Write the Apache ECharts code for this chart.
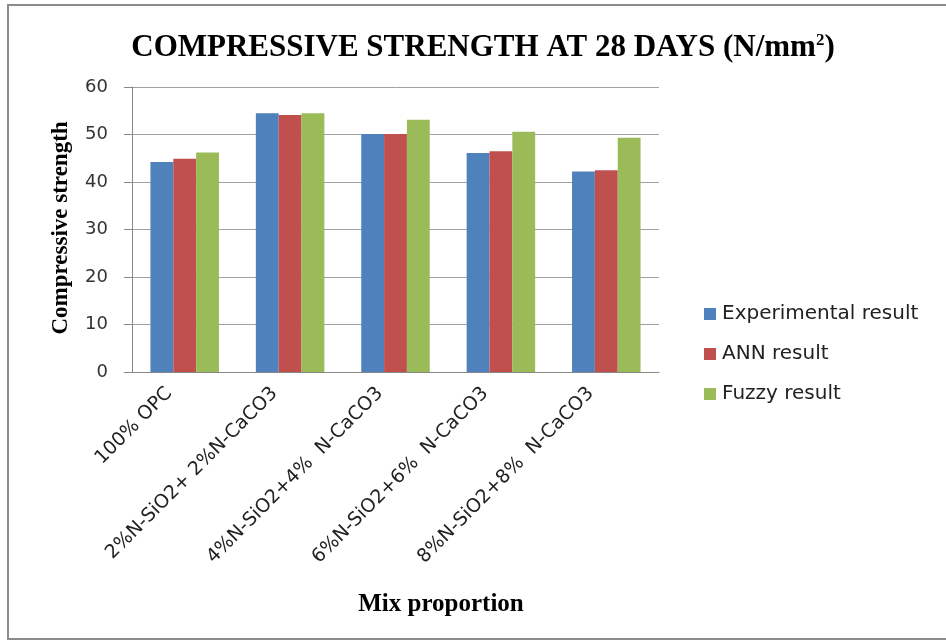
<!DOCTYPE html>
<html><head><meta charset="utf-8">
<script src="https://cdn.jsdelivr.net/npm/echarts@6/dist/echarts.min.js"></script>
<style>html,body{margin:0;padding:0;background:#fff}#c{width:946px;height:641px}</style>
</head><body><div id="c"></div>
<script>
const categories = ["100% OPC","2%N-SiO2+ 2%N-CaCO3","4%N-SiO2+4%  N-CaCO3","6%N-SiO2+6%  N-CaCO3","8%N-SiO2+8%  N-CaCO3"];
const experimental = [44.2, 54.5, 50.1, 46.1, 42.2];
const ann = [44.9, 54.1, 50.1, 46.5, 42.5];
const fuzzy = [46.2, 54.5, 53.1, 50.6, 49.3];
const seriesNames = ["Experimental result","ANN result","Fuzzy result"];
const yTicks = [0, 60, 10];

const chart = echarts.init(document.getElementById('c'));
const colors = ['#4F81BD','#C0504D','#9BBB59'];
const data = [experimental, ann, fuzzy];
chart.setOption({
  animation:false,
  backgroundColor:'#fff',
  color: colors,
  title:{
    text:'COMPRESSIVE STRENGTH AT 28 DAYS (N/mm{sup|2})',
    left:478, top:27, textAlign:'center',
    textStyle:{fontFamily:'Liberation Serif',fontWeight:'bold',fontSize:31,color:'#000',
      rich:{sup:{fontFamily:'Liberation Serif',fontWeight:'bold',fontSize:17,color:'#000',verticalAlign:'top',padding:[0,0,14,0]}}}
  },
  graphic:[
    {type:'rect',shape:{x:8,y:5,width:950,height:634},style:{fill:'none',stroke:'#8c8c8c',lineWidth:2},silent:true},
    {type:'text',x:61,y:228,rotation:Math.PI/2,style:{text:'Compressive strength',fontFamily:'Liberation Serif',fontWeight:'bold',fontSize:23,fill:'#000',textAlign:'center',textVerticalAlign:'middle'}},
    {type:'text',x:441,y:605,style:{text:'Mix proportion',fontFamily:'Liberation Serif',fontWeight:'bold',fontSize:25,fill:'#000',textAlign:'center',textVerticalAlign:'middle'}}
  ],
  legend:{
    orient:'vertical', left:699, top:299, itemGap:20, itemWidth:12, itemHeight:12,
    icon:'rect',
    textStyle:{fontFamily:'DejaVu Sans',fontSize:20,color:'#222',padding:[0,0,0,1]},
    data: seriesNames
  },
  grid:{left:132, right:287, top:87, bottom:269},
  xAxis:{
    type:'category', data:categories,
    axisLine:{lineStyle:{color:'#888'}},
    axisTick:{show:false},
    axisLabel:{rotate:45, fontFamily:'DejaVu Sans', fontSize:19, color:'#222', margin:3, interval:0, padding:[0,22,0,0]}
  },
  yAxis:{
    type:'value', min:yTicks[0], max:yTicks[1], interval:yTicks[2],
    axisLine:{show:true,lineStyle:{color:'#888'}},
    axisTick:{show:true,length:8,lineStyle:{color:'#888'}},
    splitLine:{lineStyle:{color:'#a0a0a0'}},
    axisLabel:{fontFamily:'DejaVu Sans',fontSize:18,color:'#333',margin:24}
  },
  series: seriesNames.map((n,i)=>({
    name:n, type:'bar', data:data[i], barGap:'0%', barCategoryGap:'35%',
    itemStyle:{color:colors[i]}
  }))
});
</script></body></html>
